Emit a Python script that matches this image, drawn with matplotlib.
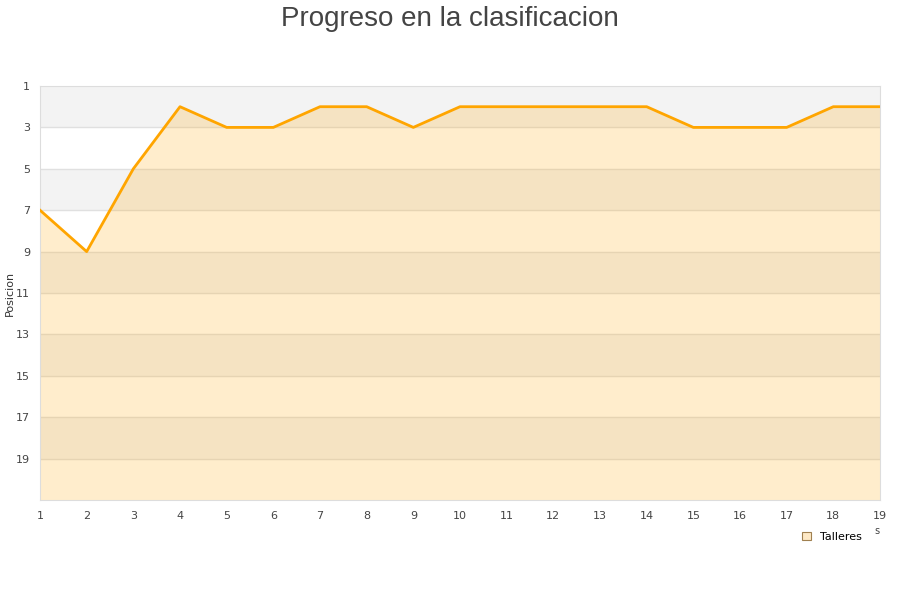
import matplotlib.pyplot as plt
from matplotlib.patches import Patch

# Jornadas y posiciones del equipo
jornadas = list(range(1, 20))
posiciones = [7, 9, 5, 2, 3, 3, 2, 2, 3, 2, 2, 2, 2, 2, 3, 3, 3, 2, 2]
equipo = "Talleres"
y_ticks = list(range(1, 20, 2))

fig = plt.figure(figsize=(9, 6), dpi=100)
ax = fig.add_axes([40 / 900, 1 - 500 / 600, 840 / 900, 414 / 600])

ax.set_xlim(1, 19)
ax.set_ylim(21, 1)

# alternating background bands
for i, start in enumerate(range(1, 21, 2)):
    if i % 2 == 0:
        ax.axhspan(start, start + 2, color="#f3f3f3", zorder=0, lw=0)

for y in y_ticks[1:]:
    ax.axhline(y, color="#e0e0e0", lw=1, zorder=1)

ax.fill_between(jornadas, posiciones, 21, color="#ffa500", alpha=0.2, lw=0, zorder=2)
ax.plot(jornadas, posiciones, color="#ffa500", lw=2, zorder=3)

ax.set_xticks(jornadas)
ax.set_yticks(y_ticks)
ax.tick_params(length=0, labelsize=8, colors="#444444", pad=8)
ax.tick_params(axis="y", pad=7)
for sp in ax.spines.values():
    sp.set_color("#dddddd")

ax.set_ylabel("Posicion", fontsize=8, color="#333333")
ax.yaxis.set_label_coords(-25 / 840, 0.5)

fig.suptitle("Progreso en la clasificacion", fontsize=20, color="#444444",
             family="Liberation Sans", y=0.99)

fig.text(877 / 900, 1 - 531 / 600, "s", fontsize=7, color="#444444",
         ha="center", va="center")

handle = Patch(facecolor="#fee9c6", edgecolor="#a08050", lw=0.8)
fig.legend([handle], [equipo], loc="center", bbox_to_anchor=(832 / 900, 1 - 537 / 600),
           frameon=False, fontsize=8, handlelength=0.8, handleheight=0.8,
           handletextpad=0.8)

fig.savefig("out.png", dpi=100)
